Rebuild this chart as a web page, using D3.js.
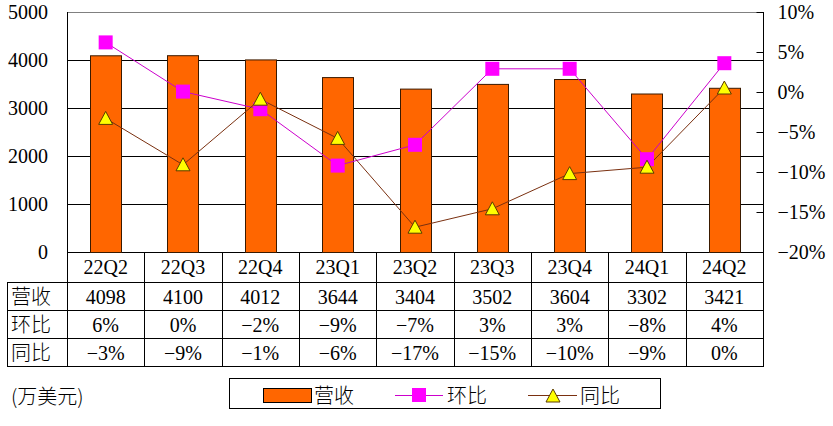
<!DOCTYPE html>
<html><head><meta charset="utf-8">
<script src="https://cdn.jsdelivr.net/npm/d3@7/dist/d3.min.js"></script>
<style>
html,body{margin:0;padding:0;background:#fff;}
</style></head>
<body><svg id="c" width="833" height="426"></svg>
<script>
const categories = ["22Q2","22Q3","22Q4","23Q1","23Q2","23Q3","23Q4","24Q1","24Q2"];
const revenue = [4098,4100,4012,3644,3404,3502,3604,3302,3421];
const qoq = [6.2,0.05,-2.15,-9.2,-6.6,2.9,2.9,-8.4,3.6];
const yoy = [-3.3,-9.1,-0.9,-5.8,-16.9,-14.6,-10.2,-9.4,0.5];
const qoqLabels = ["6%","0%","−2%","−9%","−7%","3%","3%","−8%","4%"];
const yoyLabels = ["−3%","−9%","−1%","−6%","−17%","−15%","−10%","−9%","0%"];
const leftTicks = [0,1000,2000,3000,4000,5000];
const rightTicks = [-20,-15,-10,-5,0,5,10];
const rowNames = ["营收","环比","同比"];
const unitText = "(万美元)";

const SERIF = "'Liberation Serif', 'DejaVu Serif', serif";
const CJK = "'Noto Sans CJK SC', sans-serif";
const svg = d3.select("#c");
const L = 67, R = 763, T = 12, B = 252;
const x = d3.scaleBand().domain(categories).range([L,R]);
const yL = d3.scaleLinear().domain([0,5000]).range([B,T]);
const yR = d3.scaleLinear().domain([-20,10]).range([B,T]);
const fs = 20;
const num = sel => sel.style("font-family",SERIF).style("font-size",fs+"px").attr("fill","#000");
const cjk = sel => sel.style("font-family",CJK).style("font-size",fs+"px").style("font-weight","300").attr("fill","#000");

svg.append("g").selectAll("line").data(leftTicks.filter(d=>d<5000)).join("line")
  .attr("x1",L).attr("x2",R).attr("y1",d=>yL(d)+0.5).attr("y2",d=>yL(d)+0.5)
  .attr("stroke","#000").attr("stroke-width",1);
svg.append("line").attr("x1",L).attr("x2",R).attr("y1",T+0.5).attr("y2",T+0.5).attr("stroke","#808080");

svg.append("g").selectAll("text").data(leftTicks).join("text")
  .attr("x",48).attr("y",d=>yL(d)).attr("dy","0.35em").attr("text-anchor","end")
  .call(num).text(d=>d);

const ra = svg.append("g").attr("transform",`translate(${R+0.5},0)`);
ra.append("line").attr("y1",T).attr("y2",B).attr("stroke","#000");
ra.selectAll("line.t").data(rightTicks).join("line").attr("class","t")
  .attr("x1",-7).attr("x2",0).attr("y1",d=>yR(d)+0.5).attr("y2",d=>yR(d)+0.5).attr("stroke","#000");
ra.selectAll("text").data(rightTicks).join("text")
  .attr("x",14).attr("y",d=>yR(d)).attr("dy","0.35em").call(num)
  .text(d=>(d<0?"−"+Math.abs(d):d)+"%");

const bw = 31;
svg.append("g").selectAll("rect").data(revenue).join("rect")
  .attr("x",(d,i)=>Math.round(x(categories[i])+x.bandwidth()/2-bw/2)+0.5)
  .attr("y",d=>yL(d)+0.5).attr("width",bw).attr("height",d=>B-yL(d))
  .attr("fill","#FF6600").attr("stroke","#3a1a00").attr("stroke-width",1);

svg.append("line").attr("x1",L+0.5).attr("x2",L+0.5).attr("y1",T).attr("y2",366).attr("stroke","#000");

const rowY = [282,310,338,366];
rowY.forEach(yv=>{
  svg.append("line").attr("x1",7).attr("x2",R+1).attr("y1",yv+0.5).attr("y2",yv+0.5).attr("stroke","#000");
});
svg.append("line").attr("x1",7.5).attr("x2",7.5).attr("y1",rowY[0]).attr("y2",rowY[3]+1).attr("stroke","#000");
svg.append("g").selectAll("line").data(categories.slice(1).concat(["end"])).join("line")
  .attr("x1",d=>Math.round(d==="end"?R:x(d))+0.5).attr("x2",d=>Math.round(d==="end"?R:x(d))+0.5)
  .attr("y1",B).attr("y2",rowY[3]+1).attr("stroke","#000");

svg.append("g").selectAll("text").data(categories).join("text")
  .attr("x",d=>x(d)+x.bandwidth()/2).attr("y",267).attr("dy","0.35em").attr("text-anchor","middle")
  .call(num).text(d=>d);

svg.append("g").selectAll("text").data(rowNames).join("text")
  .attr("x",11).attr("y",(d,i)=>(rowY[i]+rowY[i+1])/2+1).attr("dy","0.35em")
  .call(cjk).text(d=>d);

const rowsData = [revenue.map(String), qoqLabels, yoyLabels];
rowsData.forEach((row,ri)=>{
  svg.append("g").selectAll("text").data(row).join("text")
    .attr("x",(d,i)=>x(categories[i])+x.bandwidth()/2).attr("y",(rowY[ri]+rowY[ri+1])/2+1).attr("dy","0.35em")
    .attr("text-anchor","middle").call(num).text(d=>d);
});

const cx = i=>x(categories[i])+x.bandwidth()/2;
svg.append("path").datum(qoq).attr("fill","none").attr("stroke","#CC00CC").attr("stroke-width",1)
  .attr("d",d3.line().x((d,i)=>cx(i)).y(d=>yR(d)));
svg.append("path").datum(yoy).attr("fill","none").attr("stroke","#7a3010").attr("stroke-width",1)
  .attr("d",d3.line().x((d,i)=>cx(i)).y(d=>yR(d)));
svg.append("g").selectAll("rect").data(qoq).join("rect")
  .attr("x",(d,i)=>cx(i)-7).attr("y",d=>yR(d)-7).attr("width",14).attr("height",14).attr("fill","#FF00FF");
const tri = (cxv,cyv)=>`M${cxv},${cyv-7}L${cxv+7},${cyv+6}L${cxv-7},${cyv+6}Z`;
svg.append("g").selectAll("path").data(yoy).join("path")
  .attr("d",(d,i)=>tri(cx(i),yR(d))).attr("fill","#FFFF00").attr("stroke","#5a3a00").attr("stroke-width",1);

svg.append("text").attr("x",11).attr("y",397).attr("dy","0.35em").call(cjk).text(unitText);

const lg = svg.append("g");
lg.append("rect").attr("x",229.5).attr("y",378.5).attr("width",431).attr("height",30).attr("fill","#fff").attr("stroke","#000");
lg.append("rect").attr("x",263.5).attr("y",388.5).attr("width",48).attr("height",14).attr("fill","#FF6600").attr("stroke","#000");
lg.append("text").attr("x",314).attr("y",396).attr("dy","0.35em").call(cjk).text(rowNames[0]);
lg.append("line").attr("x1",395).attr("x2",443).attr("y1",395.5).attr("y2",395.5).attr("stroke","#CC00CC");
lg.append("rect").attr("x",412).attr("y",388).attr("width",14).attr("height",14).attr("fill","#FF00FF");
lg.append("text").attr("x",447).attr("y",396).attr("dy","0.35em").call(cjk).text(rowNames[1]);
lg.append("line").attr("x1",528).attr("x2",577).attr("y1",395.5).attr("y2",395.5).attr("stroke","#7a3010");
lg.append("path").attr("d",tri(553,396)).attr("fill","#FFFF00").attr("stroke","#5a3a00");
lg.append("text").attr("x",580).attr("y",396).attr("dy","0.35em").call(cjk).text(rowNames[2]);
</script></body></html>
